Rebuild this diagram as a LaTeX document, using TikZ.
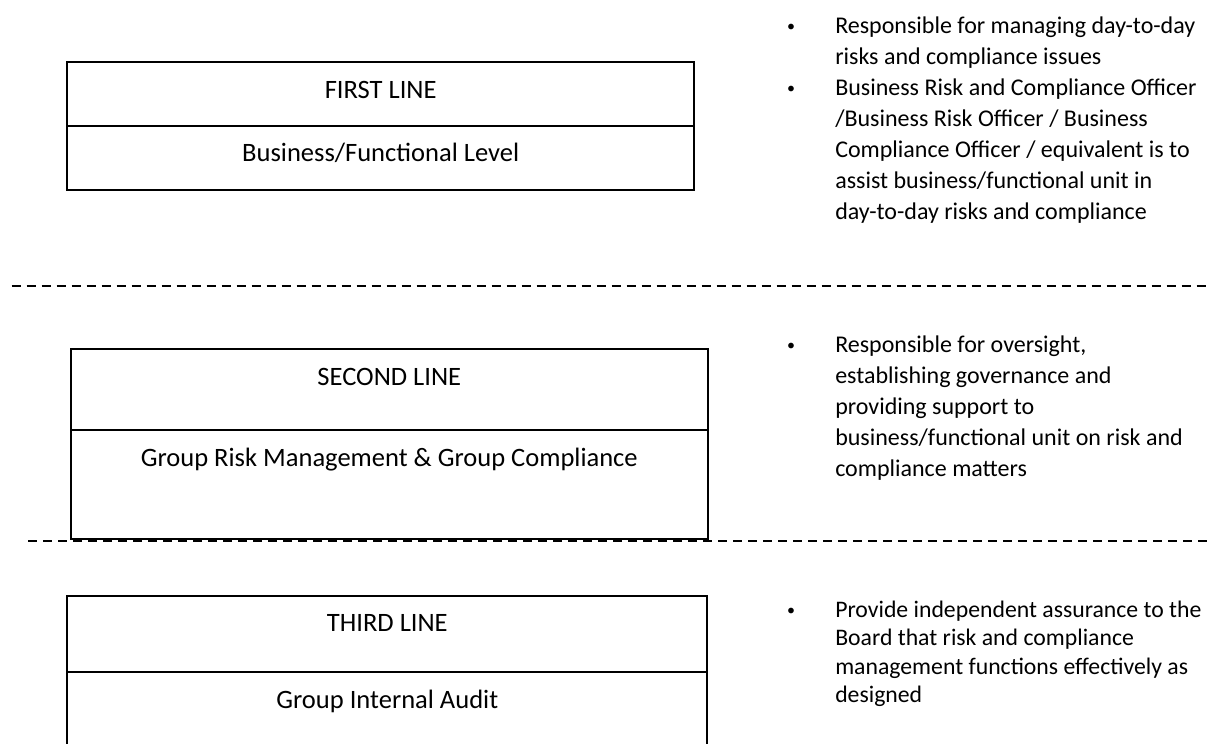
\documentclass[tikz,border=0pt]{standalone}
\usepackage{fontspec}
\setmainfont{Carlito}
\newcommand{\notelines}[1]{\renewcommand{\arraystretch}{1}\begin{tabular}[t]{@{}l@{}}#1\end{tabular}}
\begin{document}
\begin{tikzpicture}[x=0.75pt,y=-0.75pt,
  cellline/.style={line width=1.4pt,black},
  divider/.style={line width=1.1pt,black,dash pattern=on 6.75pt off 4.5pt},
  label/.style={anchor=base,inner sep=0pt,font=\fontsize{19.9}{24}\selectfont},
  bulletmark/.style={anchor=base,inner sep=0pt,font=\fontsize{12}{14}\selectfont},
  notes/.style={anchor=base west,inner sep=0pt,font=\fontsize{18}{23.25}\selectfont},
  notesb/.style={notes,font=\fontsize{17.8}{21.4}\selectfont}]
\useasboundingbox (0,0) rectangle (1210,743);
\clip (0,0) rectangle (1210,743);

% first line box
\draw[cellline] (67.3,61.7) rectangle (694,190);
\draw[cellline] (67.3,126) -- (694,126);
\node[label] (first-title) at (380.7,98) {FIRST LINE};
\node[label] (first-unit) at (380.7,161.7) {Business/Functional Level};

% second line box
\draw[cellline] (71,349) rectangle (707.7,539.3);
\draw[cellline] (71,430) -- (707.7,430);
\node[label] (second-title) at (389.3,385) {SECOND LINE};
\node[label] (second-unit) at (389.3,466.7) {Group Risk Management \& Group Compliance};

% third line box (runs off the bottom edge)
\draw[cellline] (67.3,760) -- (67.3,595.7) -- (707.3,595.7) -- (707.3,760);
\draw[cellline] (67.3,672.3) -- (707.3,672.3);
\node[label] (third-title) at (387.3,631.7) {THIRD LINE};
\node[label] (third-unit) at (387.3,708.3) {Group Internal Audit};

% separators between the lines of defence
\coordinate (sep1-start) at (11.7,286);
\coordinate (sep1-end) at (1212,286);
\coordinate (sep2-start) at (28,541);
\coordinate (sep2-end) at (1212,541);
\draw[divider] (sep1-start) -- (sep1-end);
\draw[divider] (sep2-start) -- (sep2-end);

% responsibilities
\node[bulletmark] (b1) at (791,31) {•};
\node[notes] (n1) at (835,33) {\notelines{Responsible for managing day-to-day\\risks and compliance issues}};
\node[bulletmark] (b2) at (791,93) {•};
\node[notes] (n2) at (835,95) {\notelines{Business Risk and Compliance Officer\\/Business Risk Officer / Business\\Compliance Officer / equivalent is to\\assist business/functional unit in\\day-to-day risks and compliance}};

\node[bulletmark] (b3) at (791,350) {•};
\node[notes] (n3) at (835,352) {\notelines{Responsible for oversight,\\establishing governance and\\providing support to\\business/functional unit on risk and\\compliance matters}};

\node[bulletmark] (b4) at (791,615) {•};
\node[notesb] (n4) at (835,617) {\notelines{Provide independent assurance to the\\Board that risk and compliance\\management functions effectively as\\designed}};
\end{tikzpicture}
\end{document}
